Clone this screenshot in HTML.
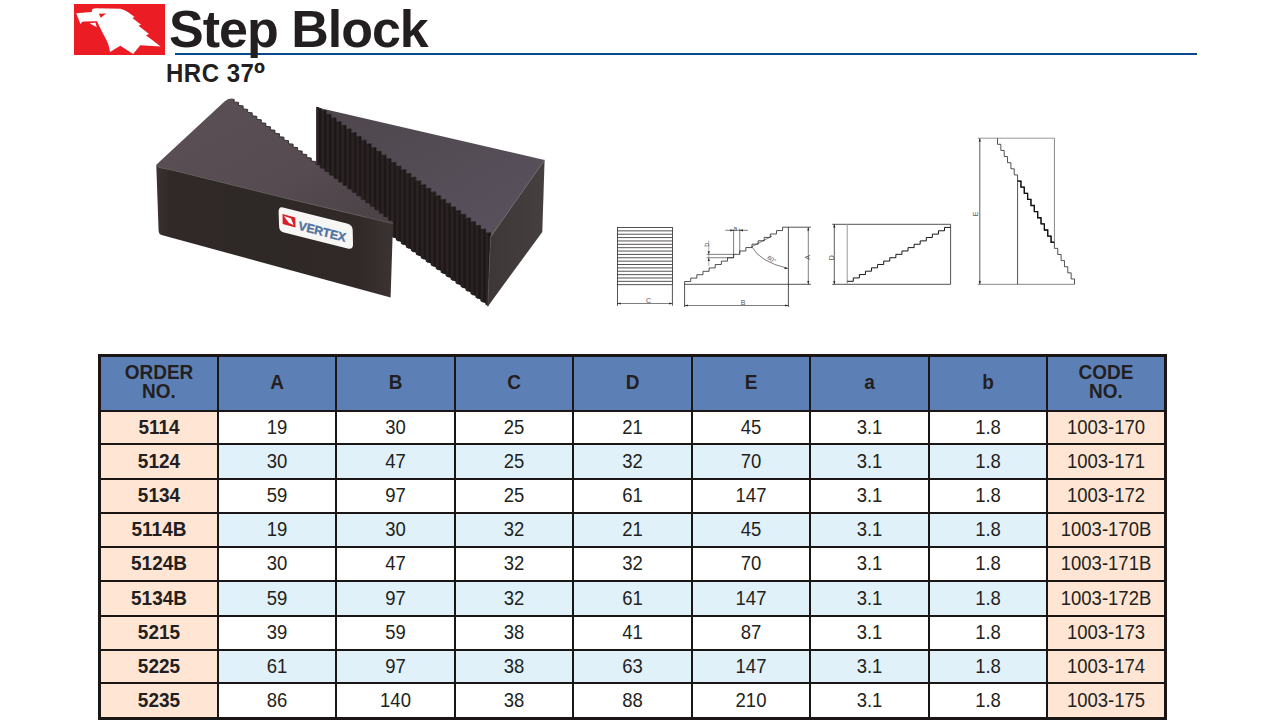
<!DOCTYPE html>
<html><head><meta charset="utf-8"><style>
html,body{margin:0;padding:0;background:#fff;}
body{width:1273px;height:724px;position:relative;overflow:hidden;font-family:"Liberation Sans",sans-serif;color:#231f20;}
.c{position:absolute;display:flex;align-items:center;justify-content:center;text-align:center;font-size:19px;}
.c span{display:inline-block;transform:scaleY(1.055);}
.h{font-weight:bold;line-height:18px;}
.h span{transform:translateY(-1.5px) scaleY(1.055);}
.b{font-weight:bold;}
.r{font-weight:normal;font-size:18.5px;}
.r span{transform:translateY(-0.5px) scaleY(1.085);}
#title{position:absolute;left:169px;top:-1px;font-size:52px;font-weight:bold;line-height:60px;white-space:nowrap;letter-spacing:-1px;}
#hrc{position:absolute;left:166px;top:60.5px;transform:scaleY(1.035);transform-origin:0 80%;font-size:24px;font-weight:bold;line-height:26px;white-space:nowrap;letter-spacing:0.5px;}
#rule{position:absolute;left:175px;top:53px;width:1022px;height:2px;background:#07488e;}
</style></head><body>
<div id="rule"></div>
<div id="title">Step Block</div>
<div id="hrc">HRC 37<span style="display:inline-block;transform:translateY(-2px) scale(1.25);transform-origin:0 20%;margin-left:0px">º</span></div>
<svg style="position:absolute;left:60px;top:0px" width="120" height="60" viewBox="0 0 1273 636.5">
<rect x="148.5" y="42.4" width="965.4" height="541" fill="#ec1c24"/>
<path fill="#fff" d="M172,140 L337,127 L339,104 Q345,88 378,88 L640,92 Q680,100 720,128 L792,180 L768,190 L860,262 L832,272 L945,362 L912,374 L1068,494 L852,480 L776,572 L640,486 L530,552 Q518,470 490,420 Q440,330 392,226 L250,228 Q228,232 218,256 Z"/>
<path fill="#fff" d="M313,247 L377,241 L390,288 Z"/>
<path fill="#ec1c24" d="M412,146 L490,142 L432,188 Z"/>
</svg>

<svg style="position:absolute;left:0;top:0" width="1273" height="724" viewBox="0 0 1273 724">
<defs>
<linearGradient id="lbTop" x1="0" y1="0" x2="1" y2="1"><stop offset="0" stop-color="#5a5056"/><stop offset="0.6" stop-color="#554b51"/><stop offset="1" stop-color="#4a4145"/></linearGradient>
<linearGradient id="lbFront" x1="0" y1="0" x2="1" y2="0"><stop offset="0" stop-color="#3b3231"/><stop offset="0.06" stop-color="#302927"/><stop offset="0.5" stop-color="#2e2826"/><stop offset="0.85" stop-color="#312928"/><stop offset="1" stop-color="#3c3333"/></linearGradient>
<linearGradient id="rbTop" x1="0" y1="0" x2="1" y2="1"><stop offset="0" stop-color="#4e464b"/><stop offset="1" stop-color="#5a5360"/></linearGradient>
<linearGradient id="rbEnd" x1="0" y1="0" x2="1" y2="0"><stop offset="0" stop-color="#3d3737"/><stop offset="1" stop-color="#463f3f"/></linearGradient>
</defs>
<polygon fill="#1e1818" points="316.3,107.3 321.28,108.75 321.28,111.01 326.25,110.41 326.25,114.71 331.23,114.11 331.23,118.42 336.21,117.82 336.21,122.12 341.19,121.53 341.19,125.83 346.16,125.23 346.16,129.53 351.14,128.94 351.14,133.24 356.12,132.64 356.12,136.95 361.09,136.35 361.09,140.65 366.07,140.05 366.07,144.36 371.05,143.76 371.05,148.06 376.03,147.47 376.03,151.77 381,151.17 381,155.47 385.98,154.88 385.98,159.18 390.96,158.58 390.96,162.89 395.93,162.29 395.93,166.59 400.91,165.99 400.91,170.3 405.89,169.7 405.89,174 410.87,173.41 410.87,177.71 415.84,177.11 415.84,181.41 420.82,180.82 420.82,185.12 425.8,184.52 425.8,188.83 430.77,188.23 430.77,192.53 435.75,191.93 435.75,196.24 440.73,195.64 440.73,199.94 445.71,199.35 445.71,203.65 450.68,203.05 450.68,207.35 455.66,206.76 455.66,211.06 460.64,210.46 460.64,214.77 465.61,214.17 465.61,218.47 470.59,217.87 470.59,222.18 475.57,221.58 475.57,225.88 480.55,225.29 480.55,229.59 485.52,228.99 485.52,233.29 490.5,232.7 490.5,237 487.8,306.4 487.8,304.8 485.52,304.75 485.52,303.15 480.55,301.16 480.55,299.56 475.57,297.56 475.57,295.96 470.59,293.97 470.59,292.37 465.61,290.37 465.61,288.77 460.64,286.78 460.64,285.18 455.66,283.18 455.66,281.58 450.68,279.58 450.68,277.98 445.71,275.99 445.71,274.39 440.73,272.39 440.73,270.79 435.75,268.8 435.75,267.2 430.77,265.2 430.77,263.6 425.8,261.61 425.8,260.01 420.82,258.01 420.82,256.41 415.84,254.41 415.84,252.81 410.87,250.82 410.87,249.22 405.89,247.22 405.89,245.62 400.91,243.63 400.91,242.03 395.93,240.03 395.93,238.43 390.96,236.44 390.96,234.84 385.98,232.84 385.98,231.24 381,229.24 381,227.64 376.03,225.65 376.03,224.05 371.05,222.05 371.05,220.45 366.07,218.46 366.07,216.86 361.09,214.86 361.09,213.26 356.12,211.27 356.12,209.67 351.14,207.67 351.14,206.07 346.16,204.07 346.16,202.47 341.19,200.48 341.19,198.88 336.21,196.88 336.21,195.28 331.23,193.29 331.23,191.69 326.25,189.69 326.25,188.09 321.28,186.1 321.28,184.5 316.3,182.5 316.3,182.5"/>
<polygon fill="#2b2323" points="316.5,107.3 319.04,107.3 319.04,184.18 316.5,182.34"/>
<polygon fill="#2b2323" points="321.48,111.01 324.01,111.01 324.01,187.77 321.48,185.94"/>
<polygon fill="#2b2323" points="326.45,114.71 328.99,114.71 328.99,191.37 326.45,189.54"/>
<polygon fill="#2b2323" points="331.43,118.42 333.97,118.42 333.97,194.96 331.43,193.13"/>
<polygon fill="#2b2323" points="336.41,122.12 338.95,122.12 338.95,198.56 336.41,196.73"/>
<polygon fill="#2b2323" points="341.39,125.83 343.92,125.83 343.92,202.16 341.39,200.32"/>
<polygon fill="#2b2323" points="346.36,129.53 348.9,129.53 348.9,205.75 346.36,203.92"/>
<polygon fill="#2b2323" points="351.34,133.24 353.88,133.24 353.88,209.35 351.34,207.51"/>
<polygon fill="#2b2323" points="356.32,136.95 358.85,136.95 358.85,212.94 356.32,211.11"/>
<polygon fill="#2b2323" points="361.29,140.65 363.83,140.65 363.83,216.54 361.29,214.71"/>
<polygon fill="#2b2323" points="366.27,144.36 368.81,144.36 368.81,220.13 366.27,218.3"/>
<polygon fill="#2b2323" points="371.25,148.06 373.79,148.06 373.79,223.73 371.25,221.9"/>
<polygon fill="#2b2323" points="376.23,151.77 378.76,151.77 378.76,227.33 376.23,225.49"/>
<polygon fill="#2b2323" points="381.2,155.47 383.74,155.47 383.74,230.92 381.2,229.09"/>
<polygon fill="#2b2323" points="386.18,159.18 388.72,159.18 388.72,234.52 386.18,232.68"/>
<polygon fill="#2b2323" points="391.16,162.89 393.69,162.89 393.69,238.11 391.16,236.28"/>
<polygon fill="#2b2323" points="396.13,166.59 398.67,166.59 398.67,241.71 396.13,239.88"/>
<polygon fill="#2b2323" points="401.11,170.3 403.65,170.3 403.65,245.31 401.11,243.47"/>
<polygon fill="#2b2323" points="406.09,174 408.63,174 408.63,248.9 406.09,247.07"/>
<polygon fill="#2b2323" points="411.07,177.71 413.6,177.71 413.6,252.5 411.07,250.66"/>
<polygon fill="#2b2323" points="416.04,181.41 418.58,181.41 418.58,256.09 416.04,254.26"/>
<polygon fill="#2b2323" points="421.02,185.12 423.56,185.12 423.56,259.69 421.02,257.85"/>
<polygon fill="#2b2323" points="426,188.83 428.53,188.83 428.53,263.28 426,261.45"/>
<polygon fill="#2b2323" points="430.97,192.53 433.51,192.53 433.51,266.88 430.97,265.05"/>
<polygon fill="#2b2323" points="435.95,196.24 438.49,196.24 438.49,270.48 435.95,268.64"/>
<polygon fill="#2b2323" points="440.93,199.94 443.47,199.94 443.47,274.07 440.93,272.24"/>
<polygon fill="#2b2323" points="445.91,203.65 448.44,203.65 448.44,277.67 445.91,275.83"/>
<polygon fill="#2b2323" points="450.88,207.35 453.42,207.35 453.42,281.26 450.88,279.43"/>
<polygon fill="#2b2323" points="455.86,211.06 458.4,211.06 458.4,284.86 455.86,283.02"/>
<polygon fill="#2b2323" points="460.84,214.77 463.37,214.77 463.37,288.45 460.84,286.62"/>
<polygon fill="#2b2323" points="465.81,218.47 468.35,218.47 468.35,292.05 465.81,290.22"/>
<polygon fill="#2b2323" points="470.79,222.18 473.33,222.18 473.33,295.65 470.79,293.81"/>
<polygon fill="#2b2323" points="475.77,225.88 478.31,225.88 478.31,299.24 475.77,297.41"/>
<polygon fill="#2b2323" points="480.75,229.59 483.28,229.59 483.28,302.84 480.75,301"/>
<polygon fill="#2b2323" points="485.72,233.29 488.26,233.29 488.26,306.43 485.72,304.6"/>
<polygon fill="url(#rbTop)" points="316.3,107.3 321.28,108.75 321.28,111.01 326.25,110.41 326.25,114.71 331.23,114.11 331.23,118.42 336.21,117.82 336.21,122.12 341.19,121.53 341.19,125.83 346.16,125.23 346.16,129.53 351.14,128.94 351.14,133.24 356.12,132.64 356.12,136.95 361.09,136.35 361.09,140.65 366.07,140.05 366.07,144.36 371.05,143.76 371.05,148.06 376.03,147.47 376.03,151.77 381,151.17 381,155.47 385.98,154.88 385.98,159.18 390.96,158.58 390.96,162.89 395.93,162.29 395.93,166.59 400.91,165.99 400.91,170.3 405.89,169.7 405.89,174 410.87,173.41 410.87,177.71 415.84,177.11 415.84,181.41 420.82,180.82 420.82,185.12 425.8,184.52 425.8,188.83 430.77,188.23 430.77,192.53 435.75,191.93 435.75,196.24 440.73,195.64 440.73,199.94 445.71,199.35 445.71,203.65 450.68,203.05 450.68,207.35 455.66,206.76 455.66,211.06 460.64,210.46 460.64,214.77 465.61,214.17 465.61,218.47 470.59,217.87 470.59,222.18 475.57,221.58 475.57,225.88 480.55,225.29 480.55,229.59 485.52,228.99 485.52,233.29 490.5,232.7 490.5,237 544.6,159.9"/>
<polyline fill="none" stroke="#1c1616" stroke-width="0.9" points="316.3,107.3 321.28,108.75 321.28,111.01 326.25,110.41 326.25,114.71 331.23,114.11 331.23,118.42 336.21,117.82 336.21,122.12 341.19,121.53 341.19,125.83 346.16,125.23 346.16,129.53 351.14,128.94 351.14,133.24 356.12,132.64 356.12,136.95 361.09,136.35 361.09,140.65 366.07,140.05 366.07,144.36 371.05,143.76 371.05,148.06 376.03,147.47 376.03,151.77 381,151.17 381,155.47 385.98,154.88 385.98,159.18 390.96,158.58 390.96,162.89 395.93,162.29 395.93,166.59 400.91,165.99 400.91,170.3 405.89,169.7 405.89,174 410.87,173.41 410.87,177.71 415.84,177.11 415.84,181.41 420.82,180.82 420.82,185.12 425.8,184.52 425.8,188.83 430.77,188.23 430.77,192.53 435.75,191.93 435.75,196.24 440.73,195.64 440.73,199.94 445.71,199.35 445.71,203.65 450.68,203.05 450.68,207.35 455.66,206.76 455.66,211.06 460.64,210.46 460.64,214.77 465.61,214.17 465.61,218.47 470.59,217.87 470.59,222.18 475.57,221.58 475.57,225.88 480.55,225.29 480.55,229.59 485.52,228.99 485.52,233.29 490.5,232.7 490.5,237"/>
<polygon fill="url(#rbEnd)" points="490.5,237 544.6,159.9 542.3,232 487.8,306.4"/>
<polyline fill="none" stroke="#6e6666" stroke-width="0.9" points="490.5,237 544.6,159.9"/>
<line x1="490.5" y1="237" x2="487.8" y2="306.4" stroke="#554d4d" stroke-width="0.8"/>
<path fill="url(#lbTop)" d="M156.5,164.5 L224.5,101.5 Q229,97.6 233,98.8 L234.04,98.95 L234.04,101.97 L238.58,102.43 L238.58,105.45 L243.12,105.9 L243.12,108.92 L247.67,109.38 L247.67,112.4 L252.21,112.85 L252.21,115.87 L256.75,116.33 L256.75,119.35 L261.29,119.8 L261.29,122.82 L265.83,123.28 L265.83,126.3 L270.38,126.75 L270.38,129.77 L274.92,130.23 L274.92,133.25 L279.46,133.7 L279.46,136.72 L284,137.18 L284,140.2 L288.54,140.65 L288.54,143.68 L293.08,144.13 L293.08,147.15 L297.63,147.6 L297.63,150.63 L302.17,151.08 L302.17,154.1 L306.71,154.55 L306.71,157.58 L311.25,158.03 L311.25,161.05 L315.79,161.5 L315.79,164.53 L320.33,164.98 L320.33,168 L324.88,168.45 L324.88,171.48 L329.42,171.93 L329.42,174.95 L333.96,175.4 L333.96,178.43 L338.5,178.88 L338.5,181.9 L343.04,182.35 L343.04,185.38 L347.58,185.83 L347.58,188.85 L352.13,189.3 L352.13,192.33 L356.67,192.78 L356.67,195.8 L361.21,196.25 L361.21,199.28 L365.75,199.73 L365.75,202.75 L370.29,203.2 L370.29,206.23 L374.83,206.68 L374.83,209.7 L379.38,210.15 L379.38,213.18 L383.92,213.63 L383.92,216.65 L388.46,217.1 L388.46,220.13 L393,220.58 L393,223.6 L393,223.6 L280,196.8 L172.6,170.2 L159.5,167.6 L156.3,165.5 Z"/>
<polyline fill="none" stroke="#2a2224" stroke-width="0.9" points="234.04,98.95 234.04,101.97 238.58,102.43 238.58,105.45 243.12,105.9 243.12,108.92 247.67,109.38 247.67,112.4 252.21,112.85 252.21,115.87 256.75,116.33 256.75,119.35 261.29,119.8 261.29,122.82 265.83,123.28 265.83,126.3 270.38,126.75 270.38,129.77 274.92,130.23 274.92,133.25 279.46,133.7 279.46,136.72 284,137.18 284,140.2 288.54,140.65 288.54,143.68 293.08,144.13 293.08,147.15 297.63,147.6 297.63,150.63 302.17,151.08 302.17,154.1 306.71,154.55 306.71,157.58 311.25,158.03 311.25,161.05 315.79,161.5 315.79,164.53 320.33,164.98 320.33,168 324.88,168.45 324.88,171.48 329.42,171.93 329.42,174.95 333.96,175.4 333.96,178.43 338.5,178.88 338.5,181.9 343.04,182.35 343.04,185.38 347.58,185.83 347.58,188.85 352.13,189.3 352.13,192.33 356.67,192.78 356.67,195.8 361.21,196.25 361.21,199.28 365.75,199.73 365.75,202.75 370.29,203.2 370.29,206.23 374.83,206.68 374.83,209.7 379.38,210.15 379.38,213.18 383.92,213.63 383.92,216.65 388.46,217.1 388.46,220.13 393,220.58 393,223.6"/>
<path fill="url(#lbFront)" d="M156.3,165.5 159.5,167.6 172.6,170.2 280,196.8 393,223.6 L390.6,297.4 L161.5,235 Q158.8,234 158.6,231 Z"/>
<polyline fill="none" stroke="#5f5656" stroke-width="1" points="156.3,165.5 159.5,167.6 172.6,170.2 280,196.8 393,223.6"/>
<path fill="#f6f6f4" d="M283,207.5 L347,223.4 Q352.5,224.8 352.7,230 L353,244 Q353.2,250 347.5,248.6 L284,232.6 Q279.3,231.4 279.1,226.5 L278.6,212.3 Q278.5,206.4 283,207.5 Z"/>
<polygon fill="#d8202a" points="282.5,214 295.3,217.4 295.5,227.5 282.7,224"/>
<polygon fill="#fff" points="284,216 291,218.5 293.5,225 289,223 286,219"/>
<text font-family="Liberation Sans, sans-serif" font-weight="bold" font-style="italic" font-size="12.5" fill="#51739f" stroke="#51739f" stroke-width="0.4" transform="matrix(1.05,0.27,0,1,298.5,229.8)" textLength="45" lengthAdjust="spacingAndGlyphs">VERTEX</text>
</svg>
<svg style="position:absolute;left:0;top:0" width="1273" height="724" viewBox="0 0 1273 724">
<g fill="none" stroke="#2a2627" stroke-width="0.8">
<rect x="617.5" y="227.5" width="54.9" height="57.2"/>
<line x1="617.5" y1="230.86" x2="672.4" y2="230.86"/>
<line x1="617.5" y1="234.23" x2="672.4" y2="234.23"/>
<line x1="617.5" y1="237.59" x2="672.4" y2="237.59"/>
<line x1="617.5" y1="240.96" x2="672.4" y2="240.96"/>
<line x1="617.5" y1="244.32" x2="672.4" y2="244.32"/>
<line x1="617.5" y1="247.69" x2="672.4" y2="247.69"/>
<line x1="617.5" y1="251.05" x2="672.4" y2="251.05"/>
<line x1="617.5" y1="254.42" x2="672.4" y2="254.42"/>
<line x1="617.5" y1="257.78" x2="672.4" y2="257.78"/>
<line x1="617.5" y1="261.15" x2="672.4" y2="261.15"/>
<line x1="617.5" y1="264.51" x2="672.4" y2="264.51"/>
<line x1="617.5" y1="267.88" x2="672.4" y2="267.88"/>
<line x1="617.5" y1="271.24" x2="672.4" y2="271.24"/>
<line x1="617.5" y1="274.61" x2="672.4" y2="274.61"/>
<line x1="617.5" y1="277.97" x2="672.4" y2="277.97"/>
<line x1="617.5" y1="281.34" x2="672.4" y2="281.34"/>
<line x1="617.5" y1="284.7" x2="617.5" y2="305.8"/><line x1="672.4" y1="284.7" x2="672.4" y2="305.8"/>
<line x1="617.5" y1="303.5" x2="672.4" y2="303.5" stroke-width="0.6"/>
<polyline points="684.6,307 684.6,281.5 690.73,281.5 690.73,278.11 696.85,278.11 696.85,274.71 702.98,274.71 702.98,271.32 709.1,271.32 709.1,267.92 715.23,267.92 715.23,264.53 721.35,264.53 721.35,261.14 727.48,261.14 727.48,257.74 733.6,257.74 733.6,254.35 739.73,254.35 739.73,250.96 745.85,250.96 745.85,247.56 751.98,247.56 751.98,244.17 758.1,244.17 758.1,240.77 764.23,240.77 764.23,237.38 770.35,237.38 770.35,233.99 776.48,233.99 776.48,230.59 782.6,230.59 782.6,227.2 810.8,227.2"/>
<line x1="684.6" y1="284.3" x2="810.8" y2="284.3"/>
<line x1="788.4" y1="227.2" x2="788.4" y2="307"/>
<line x1="684.6" y1="305.5" x2="788.4" y2="305.5" stroke-width="0.6"/>
<line x1="808.3" y1="227.2" x2="808.3" y2="284.3" stroke-width="0.6"/>
<line x1="733.6" y1="257.74" x2="733.6" y2="230" stroke-width="0.6"/>
<line x1="739.73" y1="254.35" x2="739.73" y2="228.7" stroke-width="0.6"/>
<line x1="725.3" y1="230.3" x2="748.1" y2="230.3" stroke-width="0.6"/>
<line x1="706.7" y1="257.74" x2="733.6" y2="257.74" stroke-width="0.6"/>
<line x1="706.7" y1="254.35" x2="733.6" y2="254.35" stroke-width="0.6"/>
<line x1="708.8" y1="240.5" x2="708.8" y2="266" stroke-width="0.6" stroke="#777"/>
<path d="M751.8,246.7 Q759.9,261.9 787.8,268.4" stroke-width="0.6"/>
<line x1="751.8" y1="246.7" x2="772" y2="236" stroke-width="0.6"/>
<line x1="832.3" y1="224.3" x2="950.6" y2="224.3"/>
<line x1="832.3" y1="284.3" x2="950.6" y2="284.3"/>
<line x1="950.6" y1="224.3" x2="950.6" y2="284.3"/>
<line x1="847.2" y1="224.3" x2="847.2" y2="284.3" stroke="#999" stroke-width="1"/>
<line x1="834.3" y1="224.3" x2="834.3" y2="284.3" stroke-width="0.75"/>
<polyline stroke-width="1.0" stroke="#1a1617" points="847.2,281.3 853.28,281.3 853.28,277.93 859.36,277.93 859.36,274.56 865.45,274.56 865.45,271.19 871.53,271.19 871.53,267.83 877.61,267.83 877.61,264.46 883.69,264.46 883.69,261.09 889.78,261.09 889.78,257.72 895.86,257.72 895.86,254.35 901.94,254.35 901.94,250.98 908.02,250.98 908.02,247.61 914.11,247.61 914.11,244.24 920.19,244.24 920.19,240.88 926.27,240.88 926.27,237.51 932.35,237.51 932.35,234.14 938.44,234.14 938.44,230.77 944.52,230.77 944.52,227.4 950.6,227.4"/>
<line x1="977.8" y1="138.2" x2="1054.4" y2="138.2" stroke="#999" stroke-width="1"/>
<line x1="977.8" y1="284.3" x2="1074.5" y2="284.3" stroke="#888" stroke-width="1"/>
<line x1="979.8" y1="138.2" x2="979.8" y2="284.3" stroke-width="0.75"/>
<polyline stroke-width="0.8" points="997.5,138.2 997.5,144.32 1000.85,144.32 1000.85,150.44 1004.2,150.44 1004.2,156.56 1007.54,156.56 1007.54,162.68 1010.89,162.68 1010.89,168.8 1014.24,168.8 1014.24,174.92 1017.59,174.92 1017.59,181.04 1020.94,181.04 1020.94,187.16 1024.28,187.16 1024.28,193.28 1027.63,193.28 1027.63,199.4 1030.98,199.4 1030.98,205.52 1034.33,205.52 1034.33,211.64 1037.68,211.64 1037.68,217.76 1041.02,217.76 1041.02,223.88 1044.37,223.88 1044.37,230 1047.72,230 1047.72,236.12 1051.07,236.12 1051.07,242.24 1054.42,242.24 1054.42,248.36 1057.76,248.36 1057.76,254.48 1061.11,254.48 1061.11,260.6 1064.46,260.6 1064.46,266.72 1067.81,266.72 1067.81,272.84 1071.16,272.84 1071.16,278.96 1074.5,278.96 1074.5,284.3"/>
<polyline stroke-width="1.3" stroke="#111" points="1017.59,181.04 1020.94,181.04 1020.94,187.16 1020.94,187.16 1024.28,187.16 1024.28,193.28 1024.28,193.28 1027.63,193.28 1027.63,199.4 1027.63,199.4 1030.98,199.4 1030.98,205.52 1030.98,205.52 1034.33,205.52 1034.33,211.64 1034.33,211.64 1037.68,211.64 1037.68,217.76 1037.68,217.76 1041.02,217.76 1041.02,223.88 1041.02,223.88 1044.37,223.88 1044.37,230 1044.37,230 1047.72,230 1047.72,236.12 1047.72,236.12 1051.07,236.12 1051.07,242.24 1051.07,242.24 1054.42,242.24"/>
<line x1="1054.42" y1="138.2" x2="1054.42" y2="242.24" stroke="#888" stroke-width="1"/>
<line x1="1017.59" y1="181.04" x2="1017.59" y2="284.3" stroke-width="0.8"/>
<polygon fill="#2a2627" stroke="none" points="617.5,303.5 620.7,302.4 620.7,304.6"/>
<polygon fill="#2a2627" stroke="none" points="672.4,303.5 669.2,304.6 669.2,302.4"/>
<polygon fill="#2a2627" stroke="none" points="684.6,305.5 687.8,304.4 687.8,306.6"/>
<polygon fill="#2a2627" stroke="none" points="788.4,305.5 785.2,306.6 785.2,304.4"/>
<polygon fill="#2a2627" stroke="none" points="808.3,227.2 809.4,230.4 807.2,230.4"/>
<polygon fill="#2a2627" stroke="none" points="808.3,284.3 807.2,281.1 809.4,281.1"/>
<polygon fill="#2a2627" stroke="none" points="834.3,224.3 835.4,227.5 833.2,227.5"/>
<polygon fill="#2a2627" stroke="none" points="834.3,284.3 833.2,281.1 835.4,281.1"/>
<polygon fill="#2a2627" stroke="none" points="979.8,138.2 980.9,141.4 978.7,141.4"/>
<polygon fill="#2a2627" stroke="none" points="979.8,284.3 978.7,281.1 980.9,281.1"/>
<polygon fill="#2a2627" stroke="none" points="733.6,230.3 730.4,231.4 730.4,229.2"/>
<polygon fill="#2a2627" stroke="none" points="739.73,230.3 742.93,229.2 742.93,231.4"/>
<polygon fill="#2a2627" stroke="none" points="708.8,254.35 707.7,251.15 709.9,251.15"/>
<polygon fill="#2a2627" stroke="none" points="708.8,257.74 709.9,260.94 707.7,260.94"/>
<polygon fill="#2a2627" stroke="none" points="787.8,268.4 784.51,269.18 784.73,266.99"/>
</g>
<g font-family="Liberation Sans, sans-serif" font-size="7" fill="#555">
<text x="648.5" y="302.5" text-anchor="middle">C</text>
<text x="743.1" y="304.5" text-anchor="middle">B</text>
<text x="735.3" y="230.5" text-anchor="middle">a</text>
<text transform="translate(810,257.3) rotate(-90)" text-anchor="middle">A</text>
<text transform="translate(833.5,257.6) rotate(-90)" text-anchor="middle">D</text>
<text transform="translate(977.5,214) rotate(-90)" text-anchor="middle">E</text>
<text transform="translate(708.5,244.8) rotate(-90)" text-anchor="middle">b</text>
<text transform="translate(770.4,261) rotate(35)" text-anchor="middle" font-size="6">60°</text>
</g>
</svg>
<div style="position:absolute;left:98px;top:354px;width:1069px;height:366px;background:#1a1616"></div><div class="c h" style="left:101px;top:357px;width:116px;height:53px;background:#5c80b6"><span>ORDER<br>NO.</span></div><div class="c h" style="left:219px;top:357px;width:116px;height:53px;background:#5c80b6"><span>A</span></div><div class="c h" style="left:337px;top:357px;width:117px;height:53px;background:#5c80b6"><span>B</span></div><div class="c h" style="left:456px;top:357px;width:116px;height:53px;background:#5c80b6"><span>C</span></div><div class="c h" style="left:574px;top:357px;width:117px;height:53px;background:#5c80b6"><span>D</span></div><div class="c h" style="left:693px;top:357px;width:116px;height:53px;background:#5c80b6"><span>E</span></div><div class="c h" style="left:811px;top:357px;width:117px;height:53px;background:#5c80b6"><span>a</span></div><div class="c h" style="left:930px;top:357px;width:116px;height:53px;background:#5c80b6"><span>b</span></div><div class="c h" style="left:1048px;top:357px;width:116px;height:53px;background:#5c80b6"><span>CODE<br>NO.</span></div><div class="c b" style="left:101px;top:412px;width:116px;height:31px;background:#fee5d4"><span>5114</span></div><div class="c r" style="left:219px;top:412px;width:116px;height:31px;background:#ffffff"><span>19</span></div><div class="c r" style="left:337px;top:412px;width:117px;height:31px;background:#ffffff"><span>30</span></div><div class="c r" style="left:456px;top:412px;width:116px;height:31px;background:#ffffff"><span>25</span></div><div class="c r" style="left:574px;top:412px;width:117px;height:31px;background:#ffffff"><span>21</span></div><div class="c r" style="left:693px;top:412px;width:116px;height:31px;background:#ffffff"><span>45</span></div><div class="c r" style="left:811px;top:412px;width:117px;height:31px;background:#ffffff"><span>3.1</span></div><div class="c r" style="left:930px;top:412px;width:116px;height:31px;background:#ffffff"><span>1.8</span></div><div class="c r" style="left:1048px;top:412px;width:116px;height:31px;background:#fee5d4"><span>1003-170</span></div><div class="c b" style="left:101px;top:445px;width:116px;height:33px;background:#fee5d4"><span>5124</span></div><div class="c r" style="left:219px;top:445px;width:116px;height:33px;background:#e0f1fa"><span>30</span></div><div class="c r" style="left:337px;top:445px;width:117px;height:33px;background:#e0f1fa"><span>47</span></div><div class="c r" style="left:456px;top:445px;width:116px;height:33px;background:#e0f1fa"><span>25</span></div><div class="c r" style="left:574px;top:445px;width:117px;height:33px;background:#e0f1fa"><span>32</span></div><div class="c r" style="left:693px;top:445px;width:116px;height:33px;background:#e0f1fa"><span>70</span></div><div class="c r" style="left:811px;top:445px;width:117px;height:33px;background:#e0f1fa"><span>3.1</span></div><div class="c r" style="left:930px;top:445px;width:116px;height:33px;background:#e0f1fa"><span>1.8</span></div><div class="c r" style="left:1048px;top:445px;width:116px;height:33px;background:#fee5d4"><span>1003-171</span></div><div class="c b" style="left:101px;top:480px;width:116px;height:32px;background:#fee5d4"><span>5134</span></div><div class="c r" style="left:219px;top:480px;width:116px;height:32px;background:#ffffff"><span>59</span></div><div class="c r" style="left:337px;top:480px;width:117px;height:32px;background:#ffffff"><span>97</span></div><div class="c r" style="left:456px;top:480px;width:116px;height:32px;background:#ffffff"><span>25</span></div><div class="c r" style="left:574px;top:480px;width:117px;height:32px;background:#ffffff"><span>61</span></div><div class="c r" style="left:693px;top:480px;width:116px;height:32px;background:#ffffff"><span>147</span></div><div class="c r" style="left:811px;top:480px;width:117px;height:32px;background:#ffffff"><span>3.1</span></div><div class="c r" style="left:930px;top:480px;width:116px;height:32px;background:#ffffff"><span>1.8</span></div><div class="c r" style="left:1048px;top:480px;width:116px;height:32px;background:#fee5d4"><span>1003-172</span></div><div class="c b" style="left:101px;top:514px;width:116px;height:32px;background:#fee5d4"><span>5114B</span></div><div class="c r" style="left:219px;top:514px;width:116px;height:32px;background:#e0f1fa"><span>19</span></div><div class="c r" style="left:337px;top:514px;width:117px;height:32px;background:#e0f1fa"><span>30</span></div><div class="c r" style="left:456px;top:514px;width:116px;height:32px;background:#e0f1fa"><span>32</span></div><div class="c r" style="left:574px;top:514px;width:117px;height:32px;background:#e0f1fa"><span>21</span></div><div class="c r" style="left:693px;top:514px;width:116px;height:32px;background:#e0f1fa"><span>45</span></div><div class="c r" style="left:811px;top:514px;width:117px;height:32px;background:#e0f1fa"><span>3.1</span></div><div class="c r" style="left:930px;top:514px;width:116px;height:32px;background:#e0f1fa"><span>1.8</span></div><div class="c r" style="left:1048px;top:514px;width:116px;height:32px;background:#fee5d4"><span>1003-170B</span></div><div class="c b" style="left:101px;top:548px;width:116px;height:32px;background:#fee5d4"><span>5124B</span></div><div class="c r" style="left:219px;top:548px;width:116px;height:32px;background:#ffffff"><span>30</span></div><div class="c r" style="left:337px;top:548px;width:117px;height:32px;background:#ffffff"><span>47</span></div><div class="c r" style="left:456px;top:548px;width:116px;height:32px;background:#ffffff"><span>32</span></div><div class="c r" style="left:574px;top:548px;width:117px;height:32px;background:#ffffff"><span>32</span></div><div class="c r" style="left:693px;top:548px;width:116px;height:32px;background:#ffffff"><span>70</span></div><div class="c r" style="left:811px;top:548px;width:117px;height:32px;background:#ffffff"><span>3.1</span></div><div class="c r" style="left:930px;top:548px;width:116px;height:32px;background:#ffffff"><span>1.8</span></div><div class="c r" style="left:1048px;top:548px;width:116px;height:32px;background:#fee5d4"><span>1003-171B</span></div><div class="c b" style="left:101px;top:582px;width:116px;height:33px;background:#fee5d4"><span>5134B</span></div><div class="c r" style="left:219px;top:582px;width:116px;height:33px;background:#e0f1fa"><span>59</span></div><div class="c r" style="left:337px;top:582px;width:117px;height:33px;background:#e0f1fa"><span>97</span></div><div class="c r" style="left:456px;top:582px;width:116px;height:33px;background:#e0f1fa"><span>32</span></div><div class="c r" style="left:574px;top:582px;width:117px;height:33px;background:#e0f1fa"><span>61</span></div><div class="c r" style="left:693px;top:582px;width:116px;height:33px;background:#e0f1fa"><span>147</span></div><div class="c r" style="left:811px;top:582px;width:117px;height:33px;background:#e0f1fa"><span>3.1</span></div><div class="c r" style="left:930px;top:582px;width:116px;height:33px;background:#e0f1fa"><span>1.8</span></div><div class="c r" style="left:1048px;top:582px;width:116px;height:33px;background:#fee5d4"><span>1003-172B</span></div><div class="c b" style="left:101px;top:617px;width:116px;height:32px;background:#fee5d4"><span>5215</span></div><div class="c r" style="left:219px;top:617px;width:116px;height:32px;background:#ffffff"><span>39</span></div><div class="c r" style="left:337px;top:617px;width:117px;height:32px;background:#ffffff"><span>59</span></div><div class="c r" style="left:456px;top:617px;width:116px;height:32px;background:#ffffff"><span>38</span></div><div class="c r" style="left:574px;top:617px;width:117px;height:32px;background:#ffffff"><span>41</span></div><div class="c r" style="left:693px;top:617px;width:116px;height:32px;background:#ffffff"><span>87</span></div><div class="c r" style="left:811px;top:617px;width:117px;height:32px;background:#ffffff"><span>3.1</span></div><div class="c r" style="left:930px;top:617px;width:116px;height:32px;background:#ffffff"><span>1.8</span></div><div class="c r" style="left:1048px;top:617px;width:116px;height:32px;background:#fee5d4"><span>1003-173</span></div><div class="c b" style="left:101px;top:651px;width:116px;height:31px;background:#fee5d4"><span>5225</span></div><div class="c r" style="left:219px;top:651px;width:116px;height:31px;background:#e0f1fa"><span>61</span></div><div class="c r" style="left:337px;top:651px;width:117px;height:31px;background:#e0f1fa"><span>97</span></div><div class="c r" style="left:456px;top:651px;width:116px;height:31px;background:#e0f1fa"><span>38</span></div><div class="c r" style="left:574px;top:651px;width:117px;height:31px;background:#e0f1fa"><span>63</span></div><div class="c r" style="left:693px;top:651px;width:116px;height:31px;background:#e0f1fa"><span>147</span></div><div class="c r" style="left:811px;top:651px;width:117px;height:31px;background:#e0f1fa"><span>3.1</span></div><div class="c r" style="left:930px;top:651px;width:116px;height:31px;background:#e0f1fa"><span>1.8</span></div><div class="c r" style="left:1048px;top:651px;width:116px;height:31px;background:#fee5d4"><span>1003-174</span></div><div class="c b" style="left:101px;top:684px;width:116px;height:33px;background:#fee5d4"><span>5235</span></div><div class="c r" style="left:219px;top:684px;width:116px;height:33px;background:#ffffff"><span>86</span></div><div class="c r" style="left:337px;top:684px;width:117px;height:33px;background:#ffffff"><span>140</span></div><div class="c r" style="left:456px;top:684px;width:116px;height:33px;background:#ffffff"><span>38</span></div><div class="c r" style="left:574px;top:684px;width:117px;height:33px;background:#ffffff"><span>88</span></div><div class="c r" style="left:693px;top:684px;width:116px;height:33px;background:#ffffff"><span>210</span></div><div class="c r" style="left:811px;top:684px;width:117px;height:33px;background:#ffffff"><span>3.1</span></div><div class="c r" style="left:930px;top:684px;width:116px;height:33px;background:#ffffff"><span>1.8</span></div><div class="c r" style="left:1048px;top:684px;width:116px;height:33px;background:#fee5d4"><span>1003-175</span></div>
</body></html>
